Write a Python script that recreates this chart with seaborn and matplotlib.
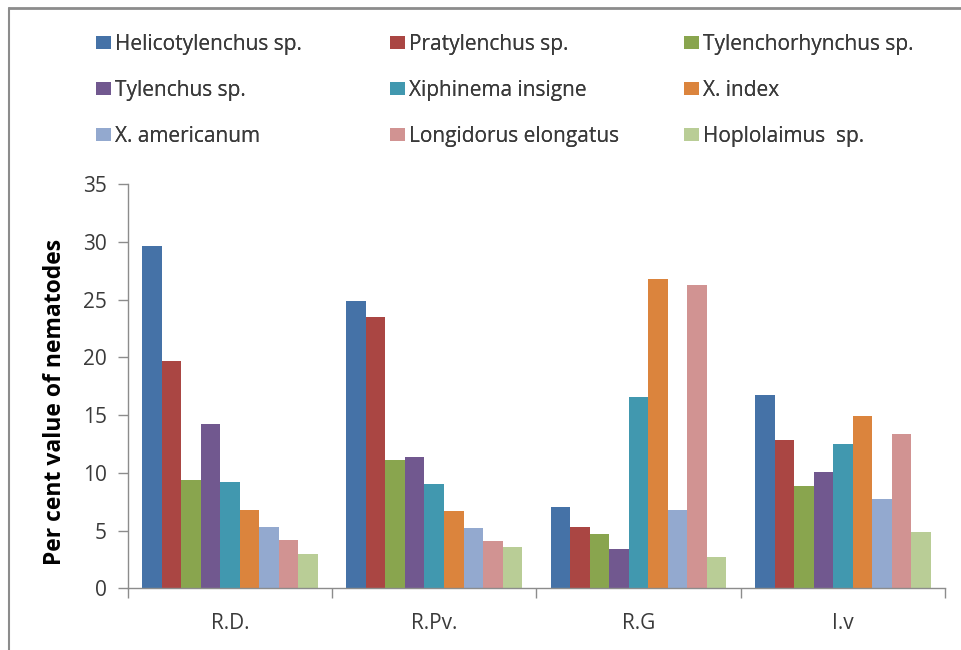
import matplotlib
matplotlib.use("Agg")
import matplotlib.pyplot as plt
from matplotlib.lines import Line2D
import seaborn as sns
import pandas as pd

# Sampling sites
sites = ["R.D.", "R.Pv.", "R.G", "I.v"]

# Nematode taxa
species = [
    "Helicotylenchus sp.", "Pratylenchus sp.", "Tylenchorhynchus sp.",
    "Tylenchus sp.", "Xiphinema insigne", "X. index",
    "X. americanum", "Longidorus elongatus", "Hoplolaimus  sp.",
]

# Per cent value of each taxon at each site (same order as `sites`)
helicotylenchus = [29.6, 24.9, 7.0, 16.7]
pratylenchus = [19.7, 23.5, 5.3, 12.8]
tylenchorhynchus = [9.4, 11.1, 4.7, 8.9]
tylenchus = [14.2, 11.4, 3.4, 10.1]
xiphinema_insigne = [9.2, 9.0, 16.6, 12.5]
x_index = [6.8, 6.7, 26.8, 14.9]
x_americanum = [5.3, 5.2, 6.8, 7.7]
longidorus = [4.2, 4.1, 26.3, 13.4]
hoplolaimus = [3.0, 3.55, 2.7, 4.9]

series = [helicotylenchus, pratylenchus, tylenchorhynchus, tylenchus,
          xiphinema_insigne, x_index, x_americanum, longidorus, hoplolaimus]

colors = ["#4572A7", "#AA4643", "#89A54E", "#71588F", "#4198AF",
          "#DB843D", "#93A9CF", "#D19392", "#B9CD96"]

rows = []
for name, vals in zip(species, series):
    for site, v in zip(sites, vals):
        rows.append({"Site": site, "Species": name, "Value": v})
df = pd.DataFrame(rows)

sns.set_theme(style="white")
plt.rcParams["font.family"] = ["Open Sans", "DejaVu Sans"]

fig = plt.figure(figsize=(9.61, 6.5), dpi=100)
ax = fig.add_axes([0.1329, 0.0949, 0.8505, 0.622])

sns.barplot(data=df, x="Site", y="Value", hue="Species", order=sites,
            hue_order=species, palette=colors, width=0.86, saturation=1,
            linewidth=0, legend=True, ax=ax)

handles, labels = ax.get_legend_handles_labels()
ax.get_legend().remove()

ax.set_ylim(0, 35)
ax.set_yticks(range(0, 36, 5))
ax.set_xlim(-0.5, 3.5)

axis_grey = "#8C8C8C"
text_grey = "#3A3A3A"
for side in ["top", "right"]:
    ax.spines[side].set_visible(False)
for side in ["left", "bottom"]:
    ax.spines[side].set_color(axis_grey)
    ax.spines[side].set_linewidth(1.0)

ax.tick_params(axis="y", which="major", direction="out", length=7,
               width=1, color=axis_grey, left=True, labelsize=15,
               labelcolor=text_grey, pad=8)
ax.set_xticks([-0.5, 0.5, 1.5, 2.5, 3.5], minor=True)
ax.tick_params(axis="x", which="minor", direction="out", length=7,
               width=1, color=axis_grey, bottom=True)
ax.tick_params(axis="x", which="major", length=0, labelsize=15,
               labelcolor=text_grey, pad=18)

ax.set_xlabel("")
ax.set_ylabel("Per cent value of nematodes", fontsize=16.5, fontweight="bold",
              color="black")
ax.yaxis.set_label_coords(-0.074, 0.46)

# Legend laid out as three columns, filled row by row
col_x = [96 / 961, 390 / 961, 684 / 961]
for c in range(3):
    idx = [c, c + 3, c + 6]
    leg = fig.legend([handles[i] for i in idx], [labels[i] for i in idx],
                     loc="upper left", bbox_to_anchor=(col_x[c], 0.948),
                     frameon=False, fontsize=15, handlelength=0.72,
                     handleheight=0.63, handletextpad=0.2,
                     labelspacing=1.2, borderaxespad=0, borderpad=0,
                     labelcolor=text_grey)
    fig.add_artist(leg)

# Frame edges of the chart area
fig.add_artist(Line2D([9 / 961, 1.0], [1 - 8 / 650, 1 - 8 / 650],
                      transform=fig.transFigure, color="#8C8C8C", lw=2))
fig.add_artist(Line2D([9 / 961, 9 / 961], [0.0, 1 - 8 / 650],
                      transform=fig.transFigure, color="#8C8C8C", lw=1.5))

fig.savefig("out.png", dpi=100)
